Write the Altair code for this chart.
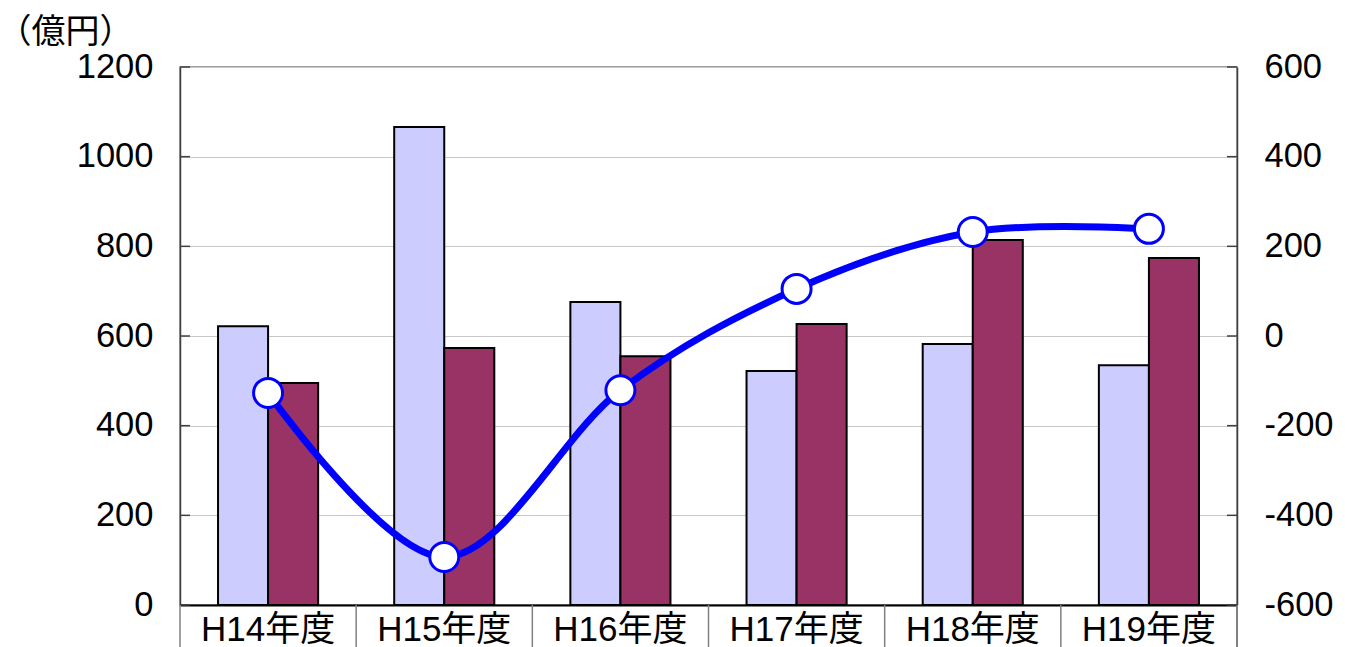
import altair as alt
import pandas as pd

categories = ["H14年度", "H15年度", "H16年度", "H17年度", "H18年度", "H19年度"]
series_a = [622, 1066, 676, 522, 582, 535]      # light bars (left axis)
series_b = [495, 573, 555, 627, 814, 774]       # dark bars (left axis)
balance = [-127, -493, -121, 105, 232, 239]     # line (right axis)
left_ticks = [0, 200, 400, 600, 800, 1000, 1200]
right_ticks = [-600, -400, -200, 0, 200, 400, 600]
series_names = ["系列1", "系列2"]
bar_colors = ["#CCCCFF", "#993366"]

W, H = 1057, 538
FONT = "Liberation Sans, Arial, Noto Sans CJK JP"

bars_df = pd.DataFrame({
    "cat": categories * 2,
    "series": [series_names[0]] * 6 + [series_names[1]] * 6,
    "value": series_a + series_b,
})
line_df = pd.DataFrame({"cat": categories, "bal": balance})
lt_df = pd.DataFrame({"value": left_ticks})
rt_df = pd.DataFrame({"bal": right_ticks})
sep_df = pd.DataFrame({"cat": categories})

xscale = alt.Scale(domain=categories, paddingInner=0, paddingOuter=0)
yl = alt.Scale(domain=[0, 1200], nice=False, zero=False)
yr = alt.Scale(domain=[-600, 600], nice=False, zero=False)

x_axis = alt.Axis(title=None, labelAngle=0, ticks=False, labelPadding=7,
                  labelFontSize=35, labelFont=FONT, labelColor="black",
                  domainColor="black", domainWidth=2, grid=False)
yl_axis = alt.Axis(values=left_ticks, title="（億円）", titleAngle=0, titleX=-115, titleY=-25,
                   titleAlign="center", titleBaseline="alphabetic", titleFontSize=34,
                   titleFont=FONT, titleFontWeight="normal", titleColor="black",
                   ticks=False, labelPadding=27, labelFontSize=34.5, labelFont=FONT,
                   labelColor="black", domainColor="#404040", domainWidth=1.5,
                   grid=True, gridColor="#C8C8C8", gridWidth=1,
                   labelExpr="'' + datum.value")
yr_axis = alt.Axis(values=right_ticks, orient="right", title=None, ticks=False,
                   labelPadding=27, labelFontSize=34.5, labelFont=FONT, labelColor="black",
                   domainColor="#404040", domainWidth=1.5, grid=False,
                   labelExpr="'' + datum.value")

X = lambda: alt.X("cat:N", scale=xscale, sort=categories, axis=x_axis)

bars = alt.Chart(bars_df).mark_bar(stroke="black", strokeWidth=2).encode(
    x=X(),
    xOffset=alt.XOffset("series:N", scale=alt.Scale(domain=series_names, paddingInner=0, paddingOuter=0.76)),
    y=alt.Y("value:Q", scale=yl, axis=yl_axis),
    color=alt.Color("series:N", scale=alt.Scale(domain=series_names, range=bar_colors), legend=None),
)

lticks = alt.Chart(lt_df).mark_rule(color="#404040", strokeWidth=1.5).encode(
    y=alt.Y("value:Q", scale=yl, axis=yl_axis),
    x=alt.value(0), x2=alt.value(10),
)

seps = alt.Chart(sep_df).mark_rule(color="#808080", strokeWidth=1.5).encode(
    x=alt.X("cat:N", scale=xscale, sort=categories, bandPosition=0, axis=x_axis),
    y=alt.value(H), y2=alt.value(H + 60),
)
sep_end = alt.Chart(sep_df).mark_rule(color="#808080", strokeWidth=1.5).encode(
    x=alt.value(W), y=alt.value(H), y2=alt.value(H + 60),
)

left_layer = alt.layer(bars, lticks, seps, sep_end)

line = alt.Chart(line_df).mark_line(color="#0000FF", strokeWidth=7, interpolate="cardinal").encode(
    x=X(),
    y=alt.Y("bal:Q", scale=yr, axis=yr_axis),
)
pts = alt.Chart(line_df).mark_point(filled=True, fill="white", stroke="#0000FF", strokeWidth=3,
                                    size=841, opacity=1, shape="circle").encode(
    x=X(),
    y=alt.Y("bal:Q", scale=yr, axis=yr_axis),
)
rticks = alt.Chart(rt_df).mark_rule(color="#404040", strokeWidth=1.5).encode(
    y=alt.Y("bal:Q", scale=yr, axis=yr_axis),
    x=alt.value(W - 10), x2=alt.value(W),
)

right_layer = alt.layer(line, pts, rticks)

chart = alt.layer(left_layer, right_layer).resolve_scale(y="independent").properties(
    width=W, height=H,
    autosize=alt.AutoSizeParams(type="none"),
    padding={"left": 172, "top": 59, "right": 100, "bottom": 60},
).configure_view(stroke="#808080", strokeWidth=1.5)

chart.save("out.html", embed_options={"renderer": "svg", "actions": False})
